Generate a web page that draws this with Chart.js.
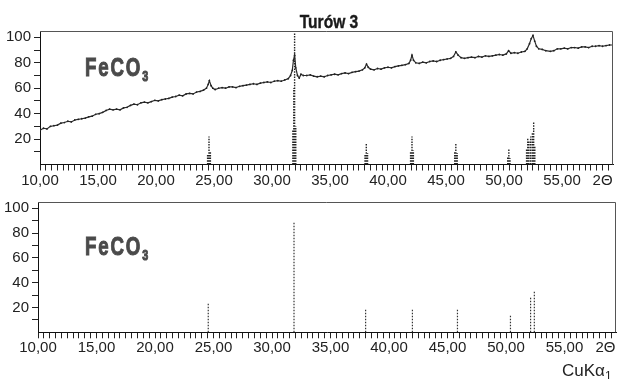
<!DOCTYPE html>
<html>
<head>
<meta charset="utf-8">
<script src="https://cdn.jsdelivr.net/npm/chart.js@4/dist/chart.umd.min.js"></script>
<style>
  body { margin: 0; background: #fff; }
  #wrap { position: relative; width: 617px; height: 379px; overflow: hidden; background: #fff; }
  canvas { position: absolute; left: 0; }
  .lbl { position: absolute; font-family: "Liberation Sans", Arial, sans-serif; color: #222; white-space: nowrap; line-height: 1; }
  .title { left: 279px; width: 100px; top: 12px; text-align: center; font-size: 19px; font-weight: bold; color: #1a1a1a; transform: scaleX(0.82); -webkit-text-stroke: 0.4px #1a1a1a; }
  .phase { left: 85px; font-size: 26px; font-weight: bold; color: #4a4a4a; letter-spacing: 2.5px; transform: scaleX(0.72); transform-origin: left top; -webkit-text-stroke: 1px #4a4a4a; }
  .phase sub { font-size: 15px; vertical-align: -5px; letter-spacing: 0; }
  .rad { left: 562px; top: 362px; font-size: 17px; }
  .rad sub { font-size: 12px; vertical-align: -4px; }
</style>
</head>
<body>
<div id="wrap">
  <canvas id="top" width="617" height="190" style="top:0"></canvas>
  <canvas id="bottom" width="617" height="189" style="top:190px"></canvas>
  <div class="lbl title">Turów 3</div>
  <div class="lbl phase" style="top:54px">FeCO<sub>3</sub></div>
  <div class="lbl phase" style="top:233px">FeCO<sub>3</sub></div>
  <div class="lbl rad">CuKα<sub>1</sub></div>
</div>
<script>
// measured pattern (2theta / intensity)
const sampleTheta = [10.0,10.3,10.6,10.9,11.2,11.5,11.8,12.1,12.4,12.7,13.0,13.3,13.6,13.9,14.2,14.5,14.8,15.1,15.4,15.7,
  16.0,16.3,16.6,16.9,17.2,17.5,17.8,18.1,18.4,18.7,19.0,19.3,19.6,19.9,20.2,20.5,20.8,21.1,21.4,21.7,
  22.0,22.3,22.6,22.9,23.2,23.5,23.8,24.1,24.35,24.5,24.6,24.75,24.9,25.1,25.4,25.7,26.0,26.3,26.6,26.9,
  27.2,27.5,27.8,28.1,28.4,28.7,29.0,29.3,29.6,29.9,30.2,30.5,30.8,31.1,31.4,31.6,31.75,31.85,31.95,32.05,
  32.2,32.35,32.5,32.7,33.0,33.3,33.6,33.9,34.2,34.5,34.8,35.1,35.4,35.7,36.0,36.3,36.6,36.9,37.2,37.5,
  37.8,38.0,38.15,38.3,38.5,38.8,39.1,39.4,39.7,40.0,40.3,40.6,40.9,41.2,41.5,41.8,41.95,42.07,42.2,42.4,
  42.7,43.0,43.3,43.6,43.9,44.2,44.5,44.8,45.1,45.4,45.65,45.85,46.05,46.3,46.6,46.9,47.2,47.5,47.8,48.1,
  48.4,48.7,49.0,49.3,49.6,49.9,50.2,50.4,50.6,50.9,51.2,51.5,51.8,52.0,52.2,52.35,52.5,52.65,52.8,53.0,
  53.3,53.6,54.0,54.3,54.6,54.9,55.2,55.5,55.8,56.1,56.4,56.7,57.0,57.3,57.6,57.9,58.2,58.5,58.8,59.1,59.4]
const sampleCounts = [27,28.5,28,30,30.5,31,32.5,33,34,33.5,35,35.5,36,36.5,37.5,38,39.5,40,41,42.5,
  43.5,43,43.5,43,44.5,45,46.5,47.5,47,48.5,49,48.5,49.5,50.5,50,51,51.5,52,53,53.5,
  54.5,54,55.5,56,55.5,57,57.5,58.5,60,63,66,62,60,59,60,60.5,60,61,61,60.5,
  61.5,62,62.5,63,63.5,63,64,64.5,65,64.5,65.5,66,65.5,66.5,67.5,70,74,82,86,76,
  70,68,71,70,70,70.5,69.5,69,69.5,69,70,70.5,71,70.5,71.5,72,71.5,72.5,73,73.5,
  74.5,76,79,76.5,75,74.5,75.5,75,76,76.5,76,77,77.5,78,78.5,79.5,82,86,82,80,
  79.5,80.5,80,81,81.5,81,82,82.5,83,83.5,85,88.5,86,84,83.5,84,84.5,84,85,84.5,
  85.5,85,85.5,86,86.5,86,87,89.5,87.5,88,87.5,88.5,89,91,95,99,101.5,97,93,91,
  90.5,89.5,89,89.5,91,91,91.5,91,92,92,91.5,92.5,92.5,92,93,93,93.5,93,93.5,94,94]

// reference sticks drawn under the measured pattern
const topStickTheta  = [24.45,24.57,24.69, 31.8,31.88,31.95,32.05, 38.02,38.13,38.24, 41.95,42.07,42.19, 45.75,45.85,45.97, 50.32,50.42,50.52, 51.95,52.05,52.15,52.3,52.45,52.56,52.66]
const topStickHeight = [8,22,10, 27,60,103,30, 8,17,9, 10,22,11, 10,17,9, 6,12,5, 12,21,18,22,25,33,15]

// FeCO3 card
const refStickTheta  = [24.55,31.88,38.0,42.0,45.85,50.38,52.1,52.42]
const refStickHeight = [23,89,18.5,19,19,13.5,29,33.5]

const xLabelPos   = [10,15,20,25,30,35,40,45,50,55,58.5]
const xTickLabels = ['10,00','15,00','20,00','25,00','30,00','35,00','40,00','45,00','50,00','55,00','2Θ']
const yLabelValues = [20,40,60,80,100]

Chart.defaults.font.family = '"Liberation Sans", Arial, sans-serif'
Chart.defaults.font.size = 15
Chart.defaults.color = '#222'
Chart.defaults.animation = false

const sticks = (pos, h) => {
  const out = []
  pos.forEach((p, i) => { out.push({x: p, y: 0}, {x: p, y: h[i]}, {x: p, y: null}) })
  return out
}

const frame = {
  id: 'frame',
  afterDatasetsDraw(chart) {
    const {ctx, chartArea: a} = chart
    ctx.save()
    ctx.strokeStyle = '#555'
    ctx.lineWidth = 1
    ctx.beginPath()
    ctx.moveTo(a.left, a.top + 0.5)
    ctx.lineTo(a.right - 0.5, a.top + 0.5)
    ctx.lineTo(a.right - 0.5, a.bottom)
    ctx.stroke()
    ctx.restore()
  }
}

function makeChart(id, datasets, yW, xH, padTop) {
  return new Chart(document.getElementById(id), {
    type: 'scatter',
    data: { datasets },
    options: {
      responsive: false,
      layout: { padding: { top: padTop, right: 1, left: 0, bottom: 0 } },
      plugins: { legend: { display: false }, tooltip: { enabled: false } },
      scales: {
        x: {
          type: 'linear', min: 10, max: 59.4,
          afterBuildTicks: s => {
            s.ticks = []
            for (let v = 10; v <= 59.01; v += 0.5) s.ticks.push({ value: Math.round(v * 10) / 10 })
          },
          afterFit: s => { s.height = xH },
          ticks: {
            autoSkip: false, maxRotation: 0, padding: 1,
            callback: v => {
              const i = xLabelPos.findIndex(p => Math.abs(p - v) < 1e-6)
              return i < 0 ? '' : xTickLabels[i]
            }
          },
          grid: { drawOnChartArea: false, tickLength: 6, color: '#222' },
          border: { color: '#111', width: 1 }
        },
        y: {
          min: 0, max: 105,
          afterBuildTicks: s => {
            s.ticks = []
            for (let v = 10; v <= 100; v += 10) s.ticks.push({ value: v })
          },
          afterFit: s => { s.width = yW },
          ticks: { autoSkip: false, padding: 3, callback: v => yLabelValues.includes(v) ? String(v) : '' },
          grid: { drawOnChartArea: false, tickLength: 6, color: '#222' },
          border: { color: '#111', width: 1 }
        }
      }
    },
    plugins: [frame]
  })
}

makeChart('top', [
  {
    data: sampleTheta.map((t, i) => ({ x: t, y: sampleCounts[i] })),
    showLine: true, borderColor: '#2a2a2a', borderWidth: 1.2,
    pointRadius: 0.9, pointBackgroundColor: '#222', pointBorderWidth: 0
  },
  {
    data: sticks(topStickTheta, topStickHeight),
    showLine: true, spanGaps: false, borderColor: '#222', borderWidth: 1.4,
    borderDash: [1.5, 1.2], pointRadius: 0
  }
], 40, 25.5, 31)

makeChart('bottom', [
  {
    data: sticks(refStickTheta, refStickHeight),
    showLine: true, spanGaps: false, borderColor: '#333', borderWidth: 1.2,
    borderDash: [1.5, 1.5], pointRadius: 0
  }
], 38, 46.7, 7)
</script>
</body>
</html>
